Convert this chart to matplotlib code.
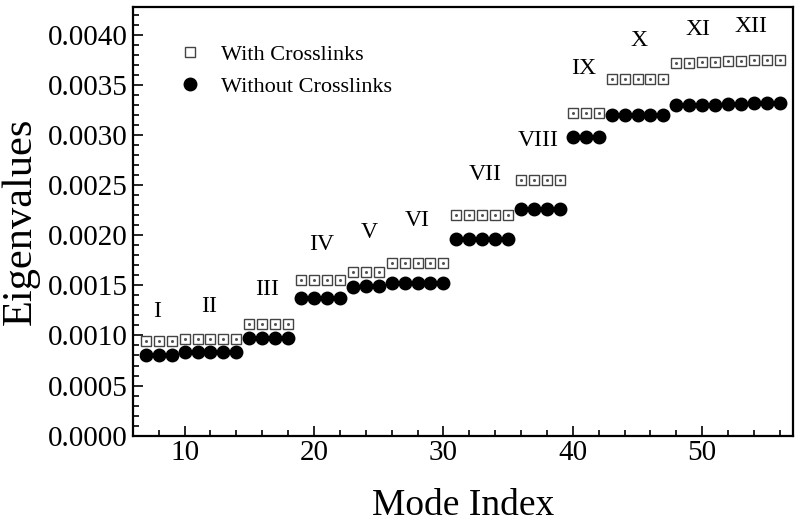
import matplotlib

matplotlib.use("Agg")
import matplotlib.pyplot as plt
from matplotlib.ticker import MultipleLocator, FormatStrFormatter

plt.rcParams["font.family"] = ["Liberation Serif", "DejaVu Serif"]

mode_index = list(range(7, 57))

with_crosslinks = [
    0.00094, 0.00094, 0.00094,
    0.00096, 0.00096, 0.00096, 0.00096, 0.00096,
    0.00111, 0.00111, 0.00111, 0.00111,
    0.00155, 0.00155, 0.00155, 0.00155,
    0.00163, 0.00163, 0.00163,
    0.00172, 0.00172, 0.00172, 0.00172, 0.00172,
    0.00220, 0.00220, 0.00220, 0.00220, 0.00220,
    0.00255, 0.00255, 0.00255, 0.00255,
    0.00322, 0.00322, 0.00322,
    0.00356, 0.00356, 0.00356, 0.00356, 0.00356,
    0.00372, 0.00372, 0.00373, 0.00373,
    0.00374, 0.00374, 0.00375, 0.00375, 0.00375,
]

without_crosslinks = [
    0.00080, 0.00080, 0.00080,
    0.00083, 0.00083, 0.00083, 0.00083, 0.00083,
    0.00097, 0.00097, 0.00097, 0.00097,
    0.00137, 0.00137, 0.00137, 0.00137,
    0.00148, 0.00149, 0.00149,
    0.00152, 0.00152, 0.00152, 0.00152, 0.00152,
    0.00196, 0.00196, 0.00196, 0.00196, 0.00196,
    0.00226, 0.00226, 0.00226, 0.00226,
    0.00298, 0.00298, 0.00298,
    0.00320, 0.00320, 0.00320, 0.00320, 0.00320,
    0.00330, 0.00330, 0.00330, 0.00330,
    0.00331, 0.00331, 0.00332, 0.00332, 0.00332,
]

group_names = ["I", "II", "III", "IV", "V", "VI", "VII", "VIII", "IX", "X", "XI", "XII"]
group_x = [7.85, 11.9, 16.4, 20.6, 24.3, 28.0, 33.2, 37.3, 40.8, 45.1, 49.7, 53.8]
group_y = [0.00124, 0.00129, 0.00146, 0.00191, 0.00203, 0.00215,
           0.00261, 0.00295, 0.00367, 0.00395, 0.00406, 0.00409]

fig = plt.figure(figsize=(8, 5.26), dpi=100)
ax = fig.add_axes([0.166, 0.172, 0.825, 0.814])

# squares with a small dot in the middle, as in the original
ax.plot(mode_index, with_crosslinks, linestyle="none", marker="s", markersize=7.2,
        markerfacecolor="white", markeredgecolor="#444444", markeredgewidth=1.0,
        label="With Crosslinks", zorder=3)
ax.plot(mode_index, with_crosslinks, linestyle="none", marker="o", markersize=1.2,
        color="#555555", zorder=4)
ax.plot(mode_index, without_crosslinks, linestyle="none", marker="o", markersize=9,
        color="black", label="Without Crosslinks", zorder=3)

for name, gx, gy in zip(group_names, group_x, group_y):
    ax.text(gx, gy, name, fontsize=17, ha="center", va="center")

ax.set_xlim(6, 57)
ax.set_ylim(0, 0.00428)
ax.xaxis.set_major_locator(MultipleLocator(10))
ax.xaxis.set_minor_locator(MultipleLocator(2))
ax.yaxis.set_major_locator(MultipleLocator(0.0005))
ax.yaxis.set_minor_locator(MultipleLocator(0.0001))
ax.yaxis.set_major_formatter(FormatStrFormatter("%.4f"))

ax.tick_params(which="both", direction="in", top=False, right=False, width=1.2,
               labelsize=21)
ax.tick_params(which="major", length=7)
ax.tick_params(which="minor", length=4)
for s in ax.spines.values():
    s.set_linewidth(1.6)

ax.set_xlabel("Mode Index", fontsize=27, labelpad=16)
ax.set_ylabel("Eigenvalues", fontsize=30.5, labelpad=6)

ax.legend(loc="upper left", bbox_to_anchor=(0.04, 0.96), frameon=False, fontsize=16,
          handletextpad=0.9, labelspacing=0.5, handlelength=1.0)

fig.savefig("out.png", dpi=100)
